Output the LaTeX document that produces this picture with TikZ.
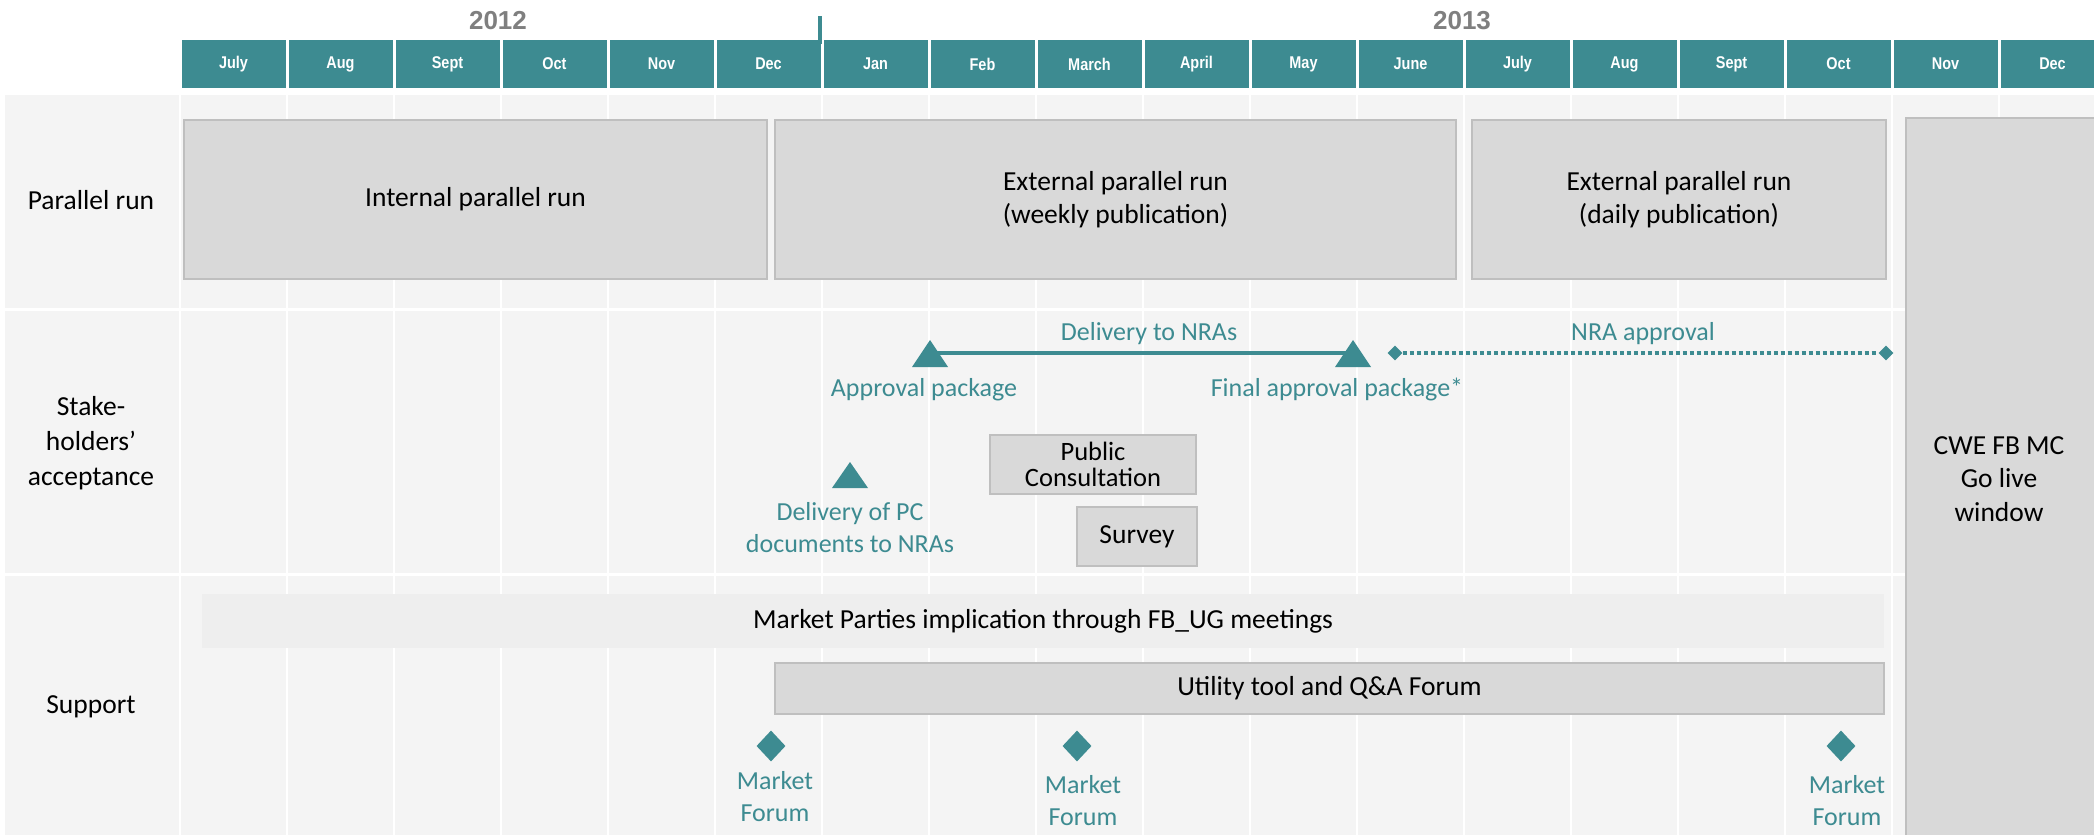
\documentclass[tikz,border=0pt]{standalone}
\usepackage{fontspec}
\setmainfont{Carlito}
\newfontfamily\hdrfont{Liberation Sans}
\usetikzlibrary{calc,shapes.geometric}

\definecolor{cweteal}{RGB}{61,139,145}
\definecolor{yeargray}{RGB}{127,127,127}
\definecolor{rowbg}{RGB}{244,244,244}
\definecolor{boxgray}{RGB}{217,217,217}
\definecolor{boxedge}{RGB}{191,191,191}
\definecolor{lightbar}{RGB}{238,238,238}

\newcommand\hdrtxt[1]{\scalebox{0.85}[1]{#1}}

\tikzset{
  month/.style={fill=cweteal, minimum width=104pt, minimum height=48pt,
    inner sep=0pt, text=white, font=\hdrfont\bfseries\fontsize{17}{20}\selectfont},
  yearlbl/.style={text=yeargray, inner sep=0pt,
    font=\hdrfont\bfseries\fontsize{26}{30}\selectfont},
  gridline/.style={white, line width=2.5pt},
  bar/.style={fill=boxgray, draw=boxedge, line width=2.5pt, inner sep=0pt,
    align=center, font=\fontsize{27.5}{33}\selectfont},
  softbar/.style={fill=lightbar, inner sep=0pt, align=center,
    font=\fontsize{27.5}{33}\selectfont},
  rowlbl/.style={align=center, inner sep=0pt, font=\fontsize{27.5}{35}\selectfont},
  blacktxt/.style={align=center, inner sep=0pt, font=\fontsize{27.5}{33.5}\selectfont},
  tealtxt/.style={text=cweteal, align=center, inner sep=0pt,
    font=\fontsize{26}{32}\selectfont},
  deliv/.style={cweteal, line width=4pt},
  dotline/.style={cweteal, line width=4pt, dash pattern=on 4pt off 3pt},
  smalldiamond/.style={diamond, fill=cweteal, inner sep=0pt,
    minimum width=15pt, minimum height=15pt},
  forumdiamond/.style={diamond, fill=cweteal, inner sep=0pt,
    minimum width=29pt, minimum height=31pt},
}

\begin{document}
\begin{tikzpicture}[x=1pt, y=-1pt]
  \useasboundingbox (0,0) rectangle (2094,835);
  \clip (0,0) rectangle (2094,835);

  % row bands
  \fill[rowbg] (5,95) rectangle (2094,308);
  \fill[rowbg] (5,311) rectangle (2094,573);
  \fill[rowbg] (5,576) rectangle (2094,835);
  \foreach \k in {0,...,17}
    \draw[gridline] ({180+107*\k},95) -- ({180+107*\k},835);

  % timeline header
  \foreach \m [count=\k from 0] in
      {July,Aug,Sept,Oct,Nov,Dec,Jan,Feb,March,April,May,June,July,Aug,Sept,Oct,Nov,Dec}
    \node[month] (m\k) at ({233.5+107*\k},64) {\hdrtxt{\m}};
  \node[yearlbl] (y2012) at (498,21) {2012};
  \node[yearlbl] (y2013) at (1462,21) {2013};
  \coordinate (ticktop) at (820,16);
  \coordinate (tickbot) at (820,44);
  \draw[cweteal, line width=3.5pt] (ticktop) -- (tickbot);

  % row labels
  \node[rowlbl] (lpar) at (91,200) {Parallel run};
  \node[rowlbl] (lstake) at (91,443) {Stake-\\holders’\\acceptance};
  \node[rowlbl] (lsup) at (91,707) {Support};

  % parallel run
  \node[bar, minimum width=583pt, minimum height=159pt] (intpr) at (475.5,199.5)
    {Internal parallel run};
  \node[bar, minimum width=681pt, minimum height=159pt] (extw) at (1115.5,199.5)
    {External parallel run\\(weekly publication)};
  \node[bar, minimum width=414pt, minimum height=159pt] (extd) at (1679,199.5)
    {External parallel run\\(daily publication)};

  % go-live window
  \node[bar, minimum width=204pt, minimum height=740pt] (cwe) at (2008,488) {};
  \node[blacktxt] (cwetxt) at (1999,479) {CWE FB MC\\Go live\\window};

  % stakeholders' acceptance
  \coordinate (ap) at (930,353);
  \coordinate (fa) at (1353,353);
  \draw[deliv] (ap) -- (fa);
  \fill[cweteal] ($(ap)+(-18,14)$) -- ($(ap)+(18,14)$) -- ($(ap)+(0,-13)$) -- cycle;
  \fill[cweteal] ($(fa)+(-18,14)$) -- ($(fa)+(18,14)$) -- ($(fa)+(0,-13)$) -- cycle;
  \node[tealtxt] (tdeliv) at (1149,334) {Delivery to NRAs};
  \node[tealtxt] (tapp) at (924,390) {Approval package};
  \node[tealtxt] (tfapp) at (1337,390) {Final approval package*};

  \node[smalldiamond] (nra1) at (1395,353) {};
  \node[smalldiamond] (nra2) at (1886,353) {};
  \draw[dotline] (nra1) -- (nra2);
  \node[tealtxt] (tnra) at (1643,334) {NRA approval};

  \coordinate (pcm) at (850,475);
  \fill[cweteal] ($(pcm)+(-18,13)$) -- ($(pcm)+(18,13)$) -- ($(pcm)+(0,-13)$) -- cycle;
  \node[tealtxt] (tpc) at (850,528) {Delivery of PC\\documents to NRAs};

  \node[bar, minimum width=206pt, minimum height=59pt,
        font=\fontsize{26.5}{26}\selectfont] (pcons) at (1093,464.5)
    {Public\\Consultation};
  \node[bar, minimum width=120pt, minimum height=59pt] (survey) at (1137,536.5)
    {Survey};

  % support
  \node[softbar, minimum width=1682pt, minimum height=54pt] (mpi) at (1043,621)
    {Market Parties implication through FB\_UG meetings};
  \node[bar, minimum width=1109pt, minimum height=51pt] (util) at (1329.5,688.5)
    {Utility tool and Q\&A Forum};

  \node[forumdiamond] (mf1) at (771,746) {};
  \node[forumdiamond] (mf2) at (1077,746) {};
  \node[forumdiamond] (mf3) at (1841,746) {};
  \node[tealtxt] (tmf1) at (775,797) {Market\\Forum};
  \node[tealtxt] (tmf2) at (1083,801) {Market\\Forum};
  \node[tealtxt] (tmf3) at (1847,801) {Market\\Forum};
\end{tikzpicture}
\end{document}
